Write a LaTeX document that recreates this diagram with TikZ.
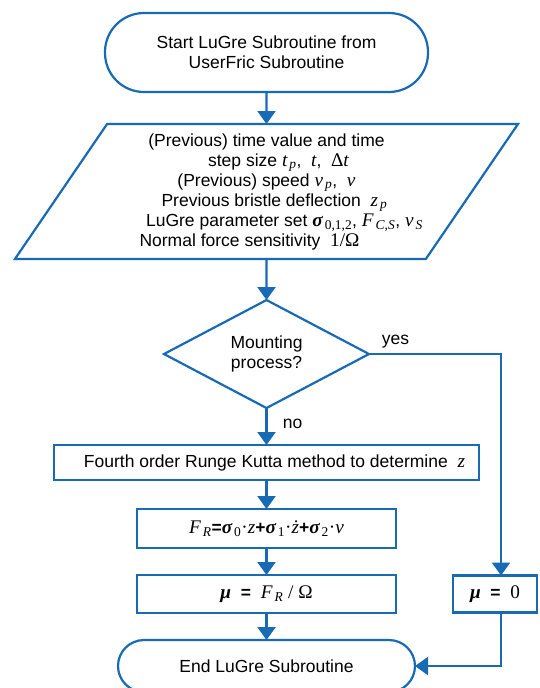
\documentclass[tikz,border=0pt]{standalone}
\usepackage{fontspec}
\setmainfont{Liberation Sans}
\newfontfamily\mf{Liberation Serif}[Scale=1.1]
\usetikzlibrary{positioning,shapes.geometric,arrows.meta}
\definecolor{flowblue}{RGB}{24,106,180}
\newcommand{\mvar}[1]{{\mf\itshape #1}}
\newcommand{\mgrk}[1]{{\mf\bfseries\itshape #1}}
\newcommand{\msub}[2]{#1\kern2pt\textsubscript{\mf\itshape #2}}
\newcommand{\mop}[1]{{\bfseries #1}}

\begin{document}
\begin{tikzpicture}
	[x=1pt, y=-1pt,
	font=\fontsize{17.5}{20}\selectfont,
	line width=2.2pt,
	term/.style = {draw=flowblue, rectangle, align=center, inner sep=2pt, outer sep=0pt},
	io/.style = {draw=flowblue, trapezium, trapezium left angle=53, trapezium right angle=127, trapezium stretches body, align=center, inner sep=3pt, outer sep=0pt, minimum width=501pt, minimum height=135pt},
	decide/.style = {draw=flowblue, diamond, aspect=1.9, align=center, inner sep=2pt, outer sep=0pt, minimum width=205pt, minimum height=108pt},
	proc/.style = {draw=flowblue, rectangle, align=center, inner sep=2pt, outer sep=0pt},
	flow/.style = {draw=flowblue, -{Triangle[width=18pt,length=13pt]}}]
\useasboundingbox (0,0) rectangle (540,688);
\node[term, minimum width=323pt, minimum height=79pt, rounded corners=39pt] (start) at (266.5,52.5) {Start LuGre Subroutine from\\UserFric Subroutine};
\node[io] (input) [below=32pt of start] {(Previous) time value and time\\
	\hspace*{24pt}step size \msub{\mvar{t}}{p}, \ \mvar{t}, \ {\mf Δ}\mvar{t}\\
	(Previous) speed \msub{\mvar{v}}{p}, \ \mvar{v}\hspace*{34pt}\\
	\hspace*{16pt}Previous bristle deflection \ \msub{\mvar{z}}{p}\\
	\hspace*{36pt}LuGre parameter set \msub{\mgrk{σ}}{\upshape 0,1,2}, \msub{\mvar{F}}{C,S}, \msub{\mvar{v}}{S}\\
	Normal force sensitivity \ {\mf 1/Ω}\hspace*{34pt}};
\node[decide] (mount) [below=41pt of input] {Mounting\\process?};
\node[proc, minimum width=425pt, minimum height=35pt] (rk) [below=37pt of mount] {\hspace*{16pt}Fourth order Runge Kutta method to determine \ \mvar{z}};
\node[proc, minimum width=259pt, minimum height=39pt] (force) [below=29pt of rk] {\msub{\mvar{F}}{R}\mop{=}\msub{\mgrk{σ}}{\upshape 0}{\mf ·}\mvar{z}\mop{+}\msub{\mgrk{σ}}{\upshape 1}{\mf ·}\mvar{\.{z}}\mop{+}\msub{\mgrk{σ}}{\upshape 2}{\mf ·}\mvar{v}};
\node[proc, minimum width=259pt, minimum height=38pt] (mu) [below=27pt of force] {\mgrk{μ} \ \mop{=} \ \msub{\mvar{F}}{R}{\mf\ /\ Ω}};
\node[term, minimum width=297pt, minimum height=52pt, rounded corners=26pt] (stop) [below=27pt of mu] {End LuGre Subroutine};
\node[proc, minimum width=84pt, minimum height=37pt] (mu0) [right=57pt of mu] {\mgrk{μ} \ \mop{=} \ {\mf 0}};
\draw[flow] (start) -- (input);
\draw[flow] (input) -- (mount);
\draw[flow] (mount) -- node[pos=0.42, right=12pt] {no} (rk);
\draw[flow] (rk) -- (force);
\draw[flow] (force) -- (mu);
\draw[flow] (mu) -- (stop);
\draw[flow] (mount.east) -| node[pos=0.1, above=1pt] {yes} ([xshift=6pt]mu0.north);
\draw[flow] ([xshift=6pt]mu0.south) |- (stop.east);
\end{tikzpicture}
\end{document}
